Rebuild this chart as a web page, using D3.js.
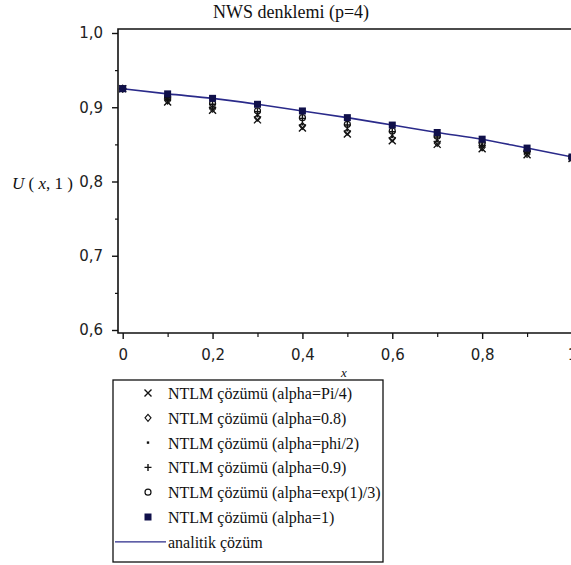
<!DOCTYPE html>
<html>
<head>
<meta charset="utf-8">
<script src="https://cdn.jsdelivr.net/npm/d3@7"></script>
<style>
  body { margin: 0; background: #fff; }
  svg { display: block; }
  .tick text { font-family: "DejaVu Sans", sans-serif; font-size: 15px; fill: #222; }
  .serif { font-family: "Liberation Serif", "Times New Roman", serif; fill: #111; }
</style>
</head>
<body>
<div class="container"></div>
<script>
// x positions of the computed points
const xValues = [0, 0.1, 0.2, 0.3, 0.4, 0.5, 0.6, 0.7, 0.8, 0.9, 1]

// analytic solution U(x,1)
const analytic = [0.925, 0.918, 0.912, 0.904, 0.895, 0.886, 0.876, 0.866, 0.857, 0.845, 0.833]

// NTLM solutions for each alpha
const ntlmPi4 = [0.925, 0.907, 0.896, 0.883, 0.872, 0.864, 0.855, 0.850, 0.844, 0.836, 0.831]
const ntlm08 = [0.925, 0.909, 0.898, 0.886, 0.875, 0.867, 0.858, 0.852, 0.846, 0.837, 0.831]
const ntlmPhi2 = [0.925, 0.910, 0.899, 0.888, 0.877, 0.869, 0.860, 0.854, 0.847, 0.838, 0.832]
const ntlm09 = [0.925, 0.913, 0.904, 0.894, 0.885, 0.876, 0.867, 0.860, 0.852, 0.841, 0.832]
const ntlmExp3 = [0.925, 0.914, 0.905, 0.895, 0.886, 0.877, 0.868, 0.861, 0.852, 0.841, 0.832]
const ntlm1 = [0.925, 0.918, 0.912, 0.904, 0.895, 0.886, 0.876, 0.866, 0.857, 0.845, 0.833]

const seriesLabels = [
    "NTLM çözümü (alpha=Pi/4)",
    "NTLM çözümü (alpha=0.8)",
    "NTLM çözümü (alpha=phi/2)",
    "NTLM çözümü (alpha=0.9)",
    "NTLM çözümü (alpha=exp(1)/3)",
    "NTLM çözümü (alpha=1)"
]
const seriesMarkers = ["x", "diamond", "dot", "plus", "circle", "square"]
const seriesValues = [ntlmPi4, ntlm08, ntlmPhi2, ntlm09, ntlmExp3, ntlm1]

const xTicks = [0, 0.2, 0.4, 0.6, 0.8, 1]
const xMinor = [0.1, 0.3, 0.5, 0.7, 0.9]
const yTicks = [0.6, 0.7, 0.8, 0.9, 1.0]
const yMinor = [0.65, 0.75, 0.85, 0.95]

const titleText = "NWS denklemi (p=4)"
const lineLabel = "analitik çözüm"

const W = 571, H = 565
const LINE_COLOR = "#2a2a8a"

const svg = d3.select("div.container").append("svg")
    .attr("width", W).attr("height", H)

// scales
const x = d3.scaleLinear().domain([0, 1]).range([122.7, 572])
const y = d3.scaleLinear().domain([0.6, 1.0]).range([330, 33])

const commaFmt = d3.formatLocale({ decimal: ",", thousands: ".", grouping: [3], currency: ["", ""] })
const fmtY = commaFmt.format(".1f")
const fmtX = d => d === 0 || d === 1 ? String(d) : commaFmt.format(".1f")(d)

const axisLeftX = 118, axisBottomY = 333

// frame (top line + left axis + bottom axis)
svg.append("path")
    .attr("d", `M${W + 5},29 H${axisLeftX} V${axisBottomY} H${W + 5}`)
    .attr("fill", "none").attr("stroke", "#111").attr("stroke-width", 1.6)

// y axis ticks
const gy = svg.append("g").attr("transform", `translate(${axisLeftX},0)`)
    .call(d3.axisLeft(y).tickValues(yTicks).tickFormat(fmtY).tickSize(6).tickPadding(9))
gy.select(".domain").remove()
gy.selectAll(".tick line").attr("stroke", "#111").attr("stroke-width", 1.4)
svg.append("g").attr("transform", `translate(${axisLeftX},0)`)
    .call(d3.axisLeft(y).tickValues(yMinor).tickFormat("").tickSize(3))
    .call(g => g.select(".domain").remove())
    .selectAll(".tick line").attr("stroke", "#111").attr("stroke-width", 1.2)

// x axis ticks
const gx = svg.append("g").attr("transform", `translate(0,${axisBottomY})`)
    .call(d3.axisBottom(x).tickValues(xTicks).tickFormat(fmtX).tickSize(6).tickPadding(10))
gx.select(".domain").remove()
gx.selectAll(".tick line").attr("stroke", "#111").attr("stroke-width", 1.4)
svg.append("g").attr("transform", `translate(0,${axisBottomY})`)
    .call(d3.axisBottom(x).tickValues(xMinor).tickFormat("").tickSize(4))
    .call(g => g.select(".domain").remove())
    .selectAll(".tick line").attr("stroke", "#111").attr("stroke-width", 1.2)

// title
svg.append("text").attr("class", "serif")
    .attr("x", 291).attr("y", 18).attr("text-anchor", "middle")
    .style("font-size", "18px").text(titleText)

// axis labels
svg.append("text").attr("class", "serif")
    .attr("x", 344).attr("y", 377).attr("text-anchor", "middle")
    .style("font-size", "13px").style("font-style", "italic").text("x")

const yl = svg.append("text").attr("class", "serif")
    .attr("x", 12).attr("y", 189).style("font-size", "17px")
yl.append("tspan").style("font-style", "italic").text("U")
yl.append("tspan").text(" ( ")
yl.append("tspan").style("font-style", "italic").text("x")
yl.append("tspan").text(", 1 )")

// marker drawing
function drawMarker(g, type, cx, cy) {
    if (type === "x") {
        g.append("path").attr("d", `M${cx - 3.5},${cy - 3.5}L${cx + 3.5},${cy + 3.5}M${cx - 3.5},${cy + 3.5}L${cx + 3.5},${cy - 3.5}`)
            .attr("stroke", "#111").attr("stroke-width", 1.4).attr("fill", "none")
    } else if (type === "plus") {
        g.append("path").attr("d", `M${cx - 3.5},${cy}L${cx + 3.5},${cy}M${cx},${cy - 3.5}L${cx},${cy + 3.5}`)
            .attr("stroke", "#111").attr("stroke-width", 1.4).attr("fill", "none")
    } else if (type === "diamond") {
        g.append("path").attr("d", `M${cx},${cy - 3.5}L${cx + 3},${cy}L${cx},${cy + 3.5}L${cx - 3},${cy}Z`)
            .attr("stroke", "#111").attr("stroke-width", 1.1).attr("fill", "none")
    } else if (type === "circle") {
        g.append("circle").attr("cx", cx).attr("cy", cy).attr("r", 3)
            .attr("stroke", "#111").attr("stroke-width", 1.2).attr("fill", "none")
    } else if (type === "dot") {
        g.append("rect").attr("x", cx - 1.2).attr("y", cy - 1.2).attr("width", 2.4).attr("height", 2.4)
            .attr("fill", "#111")
    } else if (type === "square") {
        g.append("rect").attr("x", cx - 3.5).attr("y", cy - 3.5).attr("width", 7).attr("height", 7)
            .attr("fill", "#10104a")
    }
}

// analytic line
const line = d3.line().x((d, i) => x(xValues[i])).y(d => y(d)).curve(d3.curveMonotoneX)
svg.append("path").datum(analytic)
    .attr("d", line)
    .attr("fill", "none").attr("stroke", LINE_COLOR).attr("stroke-width", 1.6)

// NTLM markers
const marks = svg.append("g")
seriesValues.forEach((vals, s) => {
    vals.forEach((v, i) => drawMarker(marks, seriesMarkers[s], x(xValues[i]), y(v)))
})

// legend
const lg = svg.append("g")
lg.append("rect").attr("x", 113).attr("y", 380).attr("width", 270).attr("height", 182)
    .attr("fill", "#fff").attr("stroke", "#111").attr("stroke-width", 1.3)
const rowY = i => 393 + i * 24.8
seriesLabels.forEach((lab, i) => {
    drawMarker(lg, seriesMarkers[i], 148, rowY(i))
    lg.append("text").attr("class", "serif")
        .attr("x", 168).attr("y", rowY(i) + 6).style("font-size", "16px").text(lab)
})
lg.append("line").attr("x1", 115).attr("x2", 166)
    .attr("y1", rowY(6)).attr("y2", rowY(6))
    .attr("stroke", LINE_COLOR).attr("stroke-width", 1.3)
lg.append("text").attr("class", "serif")
    .attr("x", 168).attr("y", rowY(6) + 6).style("font-size", "16px").text(lineLabel)
</script>
</body>
</html>
